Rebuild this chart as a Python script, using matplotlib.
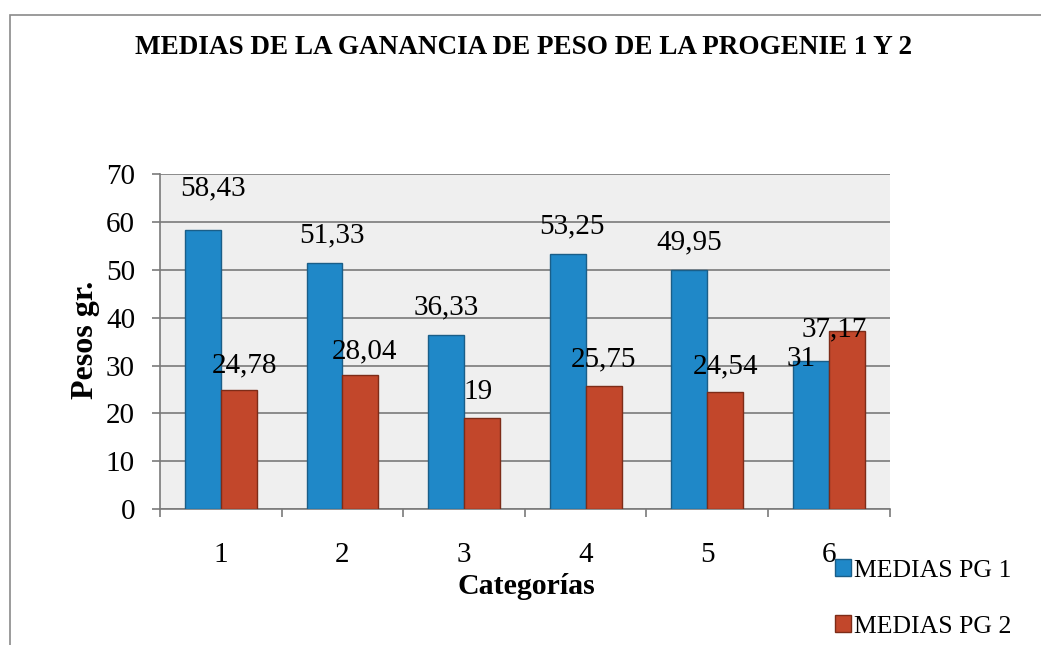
import numpy as np
import matplotlib
matplotlib.use("Agg")
import matplotlib.pyplot as plt
from matplotlib.patches import Rectangle

plt.rcParams['font.family'] = ['Liberation Serif', 'DejaVu Serif']

categorias = ['1', '2', '3', '4', '5', '6']
medias_pg1 = [58.43, 51.33, 36.33, 53.25, 49.95, 31]
medias_pg2 = [24.78, 28.04, 19, 25.75, 24.54, 37.17]
etiquetas_pg1 = ['58,43', '51,33', '36,33', '53,25', '49,95', '31']
etiquetas_pg2 = ['24,78', '28,04', '19', '25,75', '24,54', '37,17']

# label nudges (points), like the hand-placed labels of the original
nudge_pg1 = [(7, 30), (5, 20), (0, 20), (3, 20), (0, 20), (-7, 1)]
nudge_pg2 = [(4, 18), (3, 17), (-3, 19), (0, 19), (0, 18), (-9, 1)]

blue = '#1f88c8'
red = '#c2472b'

fig = plt.figure(figsize=(10.41, 6.45), dpi=100)
ax = fig.add_axes([0.1537, 0.2109, 0.701, 0.519])
ax.set_facecolor('#efefef')

x = np.arange(len(categorias))
w = 0.295
b1 = ax.bar(x - w / 2, medias_pg1, w, color=blue, edgecolor='#1a5e88', linewidth=1.0,
            label='MEDIAS PG 1', zorder=3)
b2 = ax.bar(x + w / 2, medias_pg2, w, color=red, edgecolor='#7d2c18', linewidth=1.0,
            label='MEDIAS PG 2', zorder=3)

for i in range(len(x)):
    ax.annotate(etiquetas_pg1[i], (x[i] - w / 2, medias_pg1[i]), xytext=nudge_pg1[i],
                textcoords='offset points', ha='center', va='center', fontsize=21, zorder=4)
    ax.annotate(etiquetas_pg2[i], (x[i] + w / 2, medias_pg2[i]), xytext=nudge_pg2[i],
                textcoords='offset points', ha='center', va='center', fontsize=21, zorder=4)

ax.set_xlim(-0.5, 5.5)
ax.set_ylim(0, 70)
ax.set_yticks(np.arange(0, 71, 10))
ax.yaxis.grid(True, color='#7a7a7a', linewidth=1.2, zorder=1)
ax.set_axisbelow(True)
ax.tick_params(axis='y', labelsize=21, length=6, width=1.2, color='#7a7a7a', pad=12)

ax.set_xticks(x)
ax.set_xticklabels(categorias)
ax.set_xticks(np.arange(-0.5, 6.0, 1), minor=True)
ax.tick_params(axis='x', which='major', length=0, labelsize=21, pad=24)
ax.tick_params(axis='x', which='minor', length=6, width=1.2, color='#7a7a7a')

for s in ['top', 'right']:
    ax.spines[s].set_visible(False)
for s in ['left', 'bottom']:
    ax.spines[s].set_color('#7a7a7a')
    ax.spines[s].set_linewidth(1.2)

fig.text(0.503, 0.927, 'MEDIAS DE LA GANANCIA DE PESO DE LA PROGENIE 1 Y 2',
         ha='center', va='center', fontsize=19.5, fontweight='bold')
fig.text(0.082, 0.473, 'Pesos gr.', rotation=90, ha='center', va='center',
         fontsize=23, fontweight='bold')
fig.text(0.506, 0.09, 'Categorías', ha='center', va='center',
         fontsize=21.5, fontweight='bold')

fig.legend(handles=[b1, b2], loc='center left', bbox_to_anchor=(0.792, 0.072),
           frameon=False, fontsize=18.5, handlelength=0.65, handleheight=0.65,
           handletextpad=0.1, labelspacing=1.3, borderaxespad=0)

fig.patches.append(Rectangle((0.0095, -0.01), 1.0, 0.987, transform=fig.transFigure,
                             fill=False, edgecolor='#8a8a8a', linewidth=1.2))

fig.savefig('out.png', dpi=100)
